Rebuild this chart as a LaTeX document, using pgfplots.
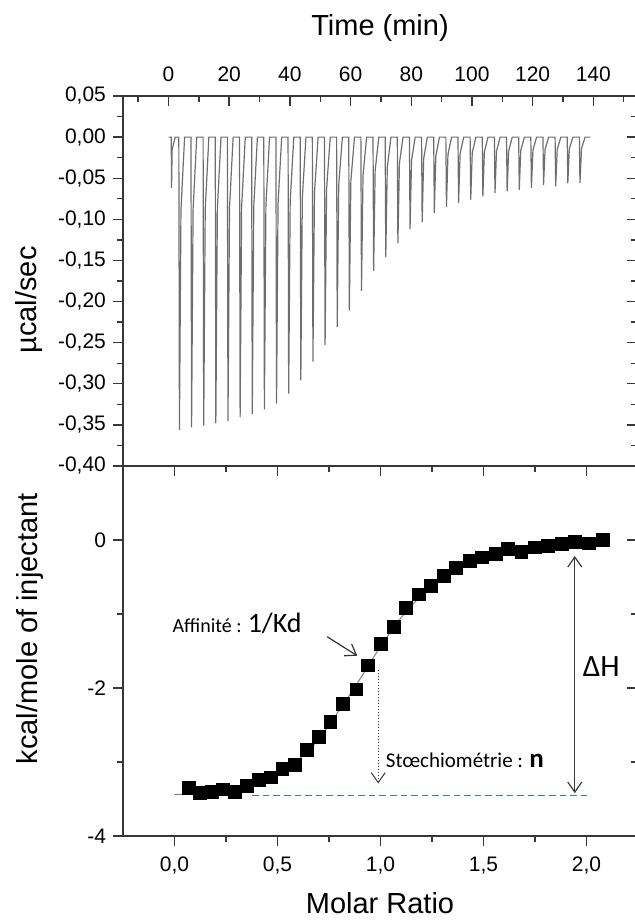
\documentclass[border=0pt]{standalone}
\usepackage{fontspec}
\setmainfont{Liberation Sans}
\newfontfamily\calibri{Carlito}
\usepackage{pgfplots}
\pgfplotsset{compat=1.18}
\usetikzlibrary{arrows.meta}

\definecolor{axgray}{RGB}{55,55,55}
\definecolor{peakgray}{RGB}{110,110,110}
\definecolor{dashblue}{RGB}{60,115,200}

\pgfplotsset{
  itc/.style={
    scale only axis, width=257pt, height=185pt,
    axis line style={axgray, line width=0.7pt},
    tick style={axgray, line width=0.7pt},
    major tick length=5pt, minor tick length=3pt,
    tick label style={font=\fontsize{10.5}{12}\selectfont},
    /pgf/number format/assume math mode=true,
    /pgf/number format/use comma,
    label style={font=\fontsize{14.5}{17}\selectfont},
  },
}

\begin{document}
\begin{tikzpicture}

% ---- raw thermogram (top)
\begin{axis}[itc, at={(0pt,185pt)},
  xmin=-15, xmax=154.4, ymin=-0.4, ymax=0.05,
  xtick=\empty,
  ytick={-0.4,-0.35,-0.3,-0.25,-0.2,-0.15,-0.1,-0.05,0,0.05},
  minor ytick={-0.375,-0.325,-0.275,-0.225,-0.175,-0.125,-0.075,-0.025,0.025},
  ytick pos=left, tick align=outside,
  yticklabel style={/pgf/number format/.cd, fixed, fixed zerofill, precision=2},
  ylabel={µcal/sec},
  ylabel style={at={(axis description cs:-0.183,0.449)}, anchor=center},
]
\addplot[peakgray, line width=0.6pt] table {
t d
0 0
0.9 0
1.0 -0.062
1.2 -0.015
2.2 0
3.4 0
3.6 -0.356
4.1 -0.089
5.3 0
7.4 0
7.6 -0.353
8.1 -0.088
9.3 0
11.4 0
11.6 -0.351
12.1 -0.088
13.3 0
15.4 0
15.6 -0.348
16.1 -0.087
17.3 0
19.4 0
19.6 -0.345
20.1 -0.086
21.3 0
23.4 0
23.6 -0.341
24.1 -0.085
25.3 0
27.4 0
27.6 -0.337
28.1 -0.084
29.3 0
31.4 0
31.6 -0.331
32.1 -0.083
33.3 0
35.4 0
35.6 -0.324
36.1 -0.081
37.3 0
39.4 0
39.6 -0.312
40.1 -0.078
41.3 0
43.4 0
43.6 -0.296
44.1 -0.074
45.3 0
47.4 0
47.6 -0.273
48.1 -0.068
49.3 0
51.4 0
51.6 -0.253
52.1 -0.063
53.3 0
55.4 0
55.6 -0.231
56.1 -0.058
57.3 0
59.4 0
59.6 -0.211
60.1 -0.053
61.3 0
63.4 0
63.6 -0.187
64.1 -0.047
65.3 0
67.4 0
67.6 -0.163
68.1 -0.041
69.3 0
71.4 0
71.6 -0.146
72.1 -0.037
73.3 0
75.4 0
75.6 -0.129
76.1 -0.032
77.3 0
79.4 0
79.6 -0.112
80.1 -0.028
81.3 0
83.4 0
83.6 -0.103
84.1 -0.026
85.3 0
87.4 0
87.6 -0.092
88.1 -0.023
89.3 0
91.4 0
91.6 -0.085
92.1 -0.021
93.3 0
95.4 0
95.6 -0.080
96.1 -0.020
97.3 0
99.4 0
99.6 -0.076
100.1 -0.019
101.3 0
103.4 0
103.6 -0.072
104.1 -0.018
105.3 0
107.4 0
107.6 -0.068
108.1 -0.017
109.3 0
111.4 0
111.6 -0.066
112.1 -0.017
113.3 0
115.4 0
115.6 -0.064
116.1 -0.016
117.3 0
119.4 0
119.6 -0.062
120.1 -0.016
121.3 0
123.4 0
123.6 -0.058
124.1 -0.015
125.3 0
127.4 0
127.6 -0.060
128.1 -0.015
129.3 0
131.4 0
131.6 -0.056
132.1 -0.014
133.3 0
135.4 0
135.6 -0.056
136.1 -0.014
137.3 0
139 0
};
\end{axis}

% top panel: inward ticks on top and right, time axis
\begin{axis}[itc, at={(0pt,185pt)},
  xmin=-15, xmax=154.4, ymin=-0.4, ymax=0.05,
  xtick={0,20,...,140},
  minor xtick={-10,10,30,50,70,90,110,130,150},
  xtick pos=right, xticklabel pos=right,
  xticklabel style={yshift=3.5pt},
  ytick={-0.4,-0.35,-0.3,-0.25,-0.2,-0.15,-0.1,-0.05,0,0.05},
  minor ytick={-0.375,-0.325,-0.275,-0.225,-0.175,-0.125,-0.075,-0.025,0.025},
  ytick pos=right, yticklabels={},
  tick align=inside,
  xlabel={Time (min)},
  xlabel style={at={(axis description cs:0.5,1.183)}, anchor=center},
]
\end{axis}

% ---- integrated heats (bottom)
\begin{axis}[itc, at={(0pt,0pt)},
  xmin=-0.25, xmax=2.245, ymin=-4, ymax=1,
  xtick={0,0.5,1,1.5,2},
  minor xtick={0.25,0.75,1.25,1.75},
  ytick={-4,-2,0}, minor ytick={-3,-1},
  xtick pos=left, ytick pos=left, tick align=outside,
  xticklabel style={yshift=-2pt, /pgf/number format/.cd, fixed, fixed zerofill, precision=1},
  xlabel={Molar Ratio},
  xlabel style={at={(axis description cs:0.5,-0.181)}, anchor=center},
  ylabel={kcal/mole of injectant},
  ylabel style={at={(axis description cs:-0.181,0.56)}, anchor=center},
  clip=false,
]
\addplot[gray, line width=0.5pt, smooth] coordinates {
  (0.0,-3.44) (0.1,-3.43) (0.2,-3.40) (0.3,-3.35) (0.4,-3.27) (0.5,-3.15)
  (0.6,-2.97) (0.7,-2.69) (0.8,-2.30) (0.9,-1.88) (1.0,-1.44) (1.1,-1.05)
  (1.2,-0.75) (1.3,-0.52) (1.4,-0.36) (1.5,-0.25) (1.6,-0.17) (1.7,-0.12)
  (1.8,-0.08) (1.9,-0.05) (2.0,-0.03) (2.08,-0.02)
};
\addplot[only marks, mark=square*, mark size=3.2pt, black] table {
mr h
0.069 -3.347
0.123 -3.415
0.183 -3.401
0.236 -3.369
0.293 -3.401
0.353 -3.324
0.409 -3.243
0.466 -3.207
0.524 -3.095
0.583 -3.041
0.641 -2.838
0.702 -2.666
0.757 -2.455
0.819 -2.216
0.883 -2.018
0.940 -1.695
1.003 -1.405
1.065 -1.171
1.123 -0.915
1.186 -0.734
1.246 -0.622
1.307 -0.486
1.367 -0.374
1.432 -0.280
1.494 -0.234
1.561 -0.189
1.620 -0.122
1.684 -0.158
1.749 -0.099
1.814 -0.081
1.879 -0.054
1.943 -0.030
2.011 -0.045
2.081 0.000
};
% annotations
\draw[dashblue, line width=0.7pt, dash pattern=on 3.3pt off 2pt]
  (axis cs:0.377,-3.455) -- (axis cs:2.016,-3.455);
\draw[axgray, line width=0.5pt, densely dotted, -{Straight Barb[length=5pt,width=7pt]}]
  (axis cs:0.989,-1.75) -- (axis cs:0.989,-3.29);
\draw[axgray, line width=0.6pt, {Straight Barb[length=5pt,width=7pt]}-{Straight Barb[length=5pt,width=7pt]}]
  (axis cs:1.943,-0.216) -- (axis cs:1.943,-3.42);
\draw[axgray, line width=0.6pt, -{Straight Barb[length=5pt,width=7pt]}]
  (axis cs:0.741,-1.307) -- (axis cs:0.887,-1.564);
\node[anchor=base west, inner sep=0pt, font=\calibri\fontsize{10}{12}\selectfont]
  at (axis cs:-0.011,-1.253) {Affinité : {\fontsize{14}{16}\selectfont 1/Kd}};
\node[anchor=base west, inner sep=0pt, font=\calibri\fontsize{10.5}{12}\selectfont]
  at (axis cs:1.024,-3.072) {Stœchiométrie : {\fontsize{13.5}{16}\selectfont\bfseries n}};
\node[anchor=base west, inner sep=0pt, font=\calibri\fontsize{15.5}{18}\selectfont]
  at (axis cs:1.98,-1.847) {ΔH};
\end{axis}

% bottom panel: inward ticks on top and right
\begin{axis}[itc, at={(0pt,0pt)},
  xmin=-0.25, xmax=2.245, ymin=-4, ymax=1,
  xtick={0,0.5,1,1.5,2},
  minor xtick={0.25,0.75,1.25,1.75},
  ytick={-4,-2,0}, minor ytick={-3,-1},
  xtick pos=right, ytick pos=right,
  xticklabels={}, yticklabels={},
  tick align=inside,
]
\end{axis}

\pgfresetboundingbox
\path (-61.5pt,-42.5pt) rectangle (255.5pt,418pt);
\end{tikzpicture}
\end{document}
